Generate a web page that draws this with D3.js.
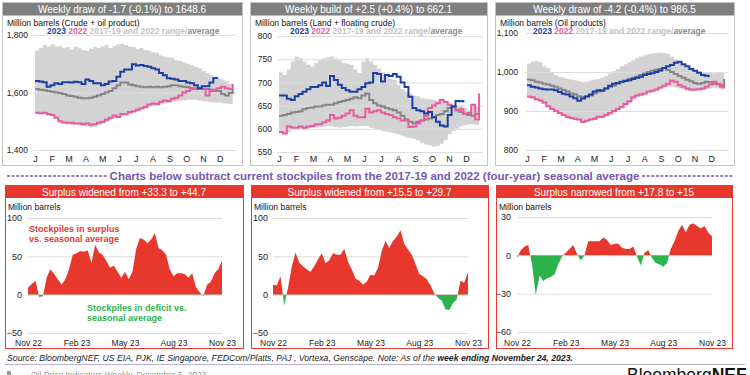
<!DOCTYPE html>
<html>
<head>
<meta charset="utf-8">
<script src="https://cdn.jsdelivr.net/npm/d3@7"></script>
<style>
    body { margin: 0; background: #fff; }
    svg { display: block; font-family: "Liberation Sans", Arial, Helvetica, sans-serif; }
</style>
</head>
<body>
<svg id="chart" width="750" height="375"></svg>
<script>
// x-axis labels
const months = ["J", "F", "M", "A", "M", "J", "J", "A", "S", "O", "N", "D"]
const diffTickLabels = ["Nov 22", "Feb 23", "May 23", "Aug 23", "Nov 23"]
const diffTickWeeks = [0, 13, 26, 39, 52]
const seriesNames = ["2023", "2022", "2017-19 and 2022 range", "average"]

// crude + oil product, weekly (million barrels)
const total2023 = [1640, 1638, 1636, 1620, 1625, 1632, 1630, 1636, 1636, 1635, 1637, 1636, 1630, 1645, 1640, 1632, 1632, 1625, 1630, 1638,
    1640, 1655, 1672, 1680, 1680, 1698, 1694, 1696, 1692, 1690, 1684, 1680, 1668, 1660, 1650, 1648, 1645, 1640, 1640, 1635,
    1632, 1625, 1615, 1622, 1622, 1635, 1650.3, 1648.6]
const total2022 = [1530, 1528, 1530, 1525, 1522, 1512, 1500, 1496, 1495, 1495, 1492, 1492, 1490, 1492, 1488, 1490, 1495, 1498, 1505, 1512,
    1520, 1515, 1525, 1525, 1532, 1535, 1540, 1545, 1550, 1558, 1562, 1560, 1568, 1572, 1570, 1578, 1582, 1590, 1600, 1605,
    1612, 1615, 1612, 1612, 1590, 1605, 1610, 1615, 1620, 1615, 1612, 1630]
const totalAvg = [1612, 1610, 1608, 1605, 1603, 1600, 1598, 1595, 1590, 1588, 1585, 1582, 1580, 1580, 1582, 1585, 1590, 1595, 1600, 1605,
    1615, 1625, 1635, 1635, 1628, 1625, 1622, 1620, 1618, 1620, 1618, 1620, 1618, 1620, 1622, 1625, 1625, 1622, 1620, 1618,
    1615, 1612, 1615, 1612, 1612, 1610, 1605, 1605, 1595, 1590, 1598, 1610]
const totalMin = [1528, 1525, 1525, 1520, 1518, 1510, 1498, 1494, 1490, 1488, 1488, 1486, 1485, 1482, 1478, 1480, 1488, 1492, 1498, 1505,
    1510, 1512, 1518, 1520, 1525, 1530, 1535, 1540, 1545, 1550, 1552, 1555, 1558, 1562, 1565, 1568, 1570, 1572, 1572, 1575,
    1575, 1575, 1572, 1570, 1568, 1566, 1565, 1565, 1563, 1562, 1560, 1558]
const totalMax = [1745, 1755, 1765, 1760, 1768, 1760, 1762, 1755, 1758, 1750, 1760, 1755, 1748, 1745, 1752, 1758, 1755, 1760, 1765, 1755,
    1762, 1768, 1770, 1765, 1760, 1758, 1752, 1755, 1748, 1745, 1740, 1738, 1730, 1725, 1722, 1720, 1712, 1710, 1705, 1700,
    1695, 1690, 1685, 1675, 1668, 1662, 1655, 1650, 1645, 1640, 1630, 1690]

// land + floating crude
const crude2023 = [672, 672, 665, 662, 670, 675, 680, 685, 690, 690, 694, 700, 692, 714, 705, 695, 688, 683, 680, 680,
    685, 690, 698, 700, 720, 718, 702, 716, 714, 718, 712, 700, 690, 669, 645, 640, 638, 633, 636, 625,
    615, 607, 605, 630, 648, 660, 659.6, 662.1]
const crude2022 = [593, 590, 605, 603, 602, 605, 602, 605, 606, 609, 610, 614, 618, 630, 622, 624, 628, 633, 640, 628,
    625, 625, 643, 635, 638, 640, 635, 632, 630, 625, 622, 618, 618, 604, 605, 612, 618, 628, 645, 650,
    655, 662, 658, 652, 648, 640, 642, 632, 634, 652, 620, 676]
const crudeAvg = [628, 630, 632, 635, 636, 638, 642, 645, 646, 648, 648, 650, 652, 652, 655, 658, 660, 662, 665, 668,
    666, 672, 676, 662, 655, 650, 648, 645, 642, 640, 635, 628, 620, 615, 612, 615, 618, 620, 622, 625,
    630, 632, 638, 645, 648, 640, 636, 632, 630, 628, 632, 632]
const crudeMin = [590, 588, 592, 598, 600, 600, 598, 600, 602, 603, 604, 604, 606, 605, 604, 603, 604, 605, 606, 605,
    606, 606, 606, 602, 600, 598, 595, 594, 592, 590, 588, 585, 582, 580, 578, 575, 570, 566, 564, 562,
    563, 568, 576, 588, 595, 600, 605, 608, 610, 610, 608, 606]
const crudeMax = [722, 716, 728, 745, 756, 752, 745, 738, 734, 742, 749, 752, 754, 756, 752, 748, 742, 740, 738, 728,
    720, 745, 752, 745, 738, 730, 722, 712, 708, 705, 695, 685, 680, 676, 672, 670, 666, 665, 664, 662,
    660, 662, 658, 652, 650, 650, 651, 645, 640, 652, 647, 676]

// oil products
const prod2023 = [966, 962, 960, 958, 956, 955, 955, 953, 949, 944, 942, 937, 933, 926, 932, 937, 942, 950, 953, 952,
    958, 965, 970, 972, 975, 977, 979, 982, 985, 988, 992, 995, 997, 1000, 1004, 1010, 1015, 1018, 1024, 1026,
    1020, 1015, 1008, 1003, 998, 992, 990.7, 986.5]
const prod2022 = [937, 935, 930, 927, 922, 912, 905, 900, 895, 890, 885, 882, 880, 878, 872, 875, 878, 880, 885, 885,
    890, 895, 900, 905, 910, 918, 925, 935, 940, 942, 945, 950, 952, 955, 960, 965, 970, 978, 975, 966,
    962, 958, 955, 955, 956, 958, 962, 968, 975, 970, 962, 958]
const prodAvg = [981, 979, 975, 973, 970, 968, 965, 962, 958, 954, 950, 945, 942, 938, 936, 937, 940, 945, 950, 954,
    958, 962, 965, 970, 974, 978, 982, 985, 988, 992, 996, 1000, 1003, 1006, 1008, 1010, 1005, 1000, 995, 990,
    985, 980, 976, 972, 970, 972, 975, 974, 970, 968, 966, 982]
const prodMin = [934, 932, 928, 924, 918, 910, 902, 897, 892, 887, 882, 879, 877, 875, 870, 872, 875, 877, 880, 882,
    886, 890, 896, 902, 907, 914, 920, 928, 935, 938, 942, 946, 948, 952, 956, 960, 962, 962, 960, 958,
    955, 952, 950, 950, 952, 954, 956, 958, 960, 958, 955, 952]
const prodMax = [1022, 1026, 1028, 1025, 1015, 1010, 1000, 992, 988, 986, 983, 981, 979, 976, 974, 975, 978, 980, 982, 985,
    990, 996, 1002, 1008, 1014, 1020, 1025, 1030, 1036, 1040, 1043, 1046, 1048, 1049, 1050, 1049, 1047, 1040, 1032, 1025,
    1018, 1012, 1008, 1004, 1002, 1000, 1000, 998, 996, 998, 1000, 1018]

// current stockpiles minus seasonal average, weekly Nov 22 - Nov 23
const totalDiff = [9, 14, 18, -3, -2, 22, 33, 27, 20, 13, 20, 33, 52, 54, 57, 56, 58, 41, 65, 55,
    52, 44, 35, 38, 30, 22, 30, 20, 30, 60, 74, 72, 67, 72, 80, 61, 58, 52, 33, 24,
    28, 28, 27, 22, 28, 10, 3, -2, 13, 17, 28, 33.3, 44.7]
const crudeDiff = [13, 12, 24, -14, 9, 36, 55, 42, 37, 33, 30, 37, 46, 54, 41, 45, 54, 52, 52, 60,
    43, 33, 21, 18, 13, 17, 26, 25, 35, 57, 70, 61, 70, 76, 84, 66, 59, 52, 40, 27,
    24, 20, 12, 2, -4, -8, -19, -20, -11, -6, 18, 15.5, 29.7]
const productsDiff = [-2, 4, 7, 8, -7, -31, -16, -20, -18, -17, -15, -7, -1, 2, 5, 8, 1, -4, 0, 11,
    11, 11, 11, 14, 12, 8, 9, 9, 6, 5, 5, 7, -1, -8, 2, 4, -2, -6, -7, -9,
    -6, 5, 11, 19, 24, 18, 24, 25, 23, 21, 23, 17.8, 15]

const blue = "#1b3fa2", pink = "#ea5a9f", avgGrey = "#858585", bandGrey = "#d3d3d3"
const red = "#e8372c", green = "#2db34b", purple = "#7757b0"

const svg = d3.select("#chart")

const drawTop = p => {
    const g = svg.append("g")
    g.append("rect").attr("x", p.x + 0.5).attr("y", 2.5).attr("width", p.w).attr("height", 163)
        .attr("fill", "none").attr("stroke", "#c4c4c4")
    g.append("rect").attr("x", p.x + 1).attr("y", 3).attr("width", p.w - 1).attr("height", 12.5).attr("fill", "#7f7f7f")
    g.append("text").attr("x", p.x + p.w / 2).attr("y", 13).attr("text-anchor", "middle")
        .attr("fill", "#fff").attr("font-size", 10).text(p.title)
    g.append("text").attr("x", p.x + 5).attr("y", 25.5).attr("font-size", 8.5).attr("fill", "#111").text(p.sub)

    const x = d3.scaleLinear().domain([0, 52]).range([p.x0, p.x0 + 12 * p.mw])
    const y = d3.scaleLinear().domain(p.domain).range(p.range)

    // 2017-19 + 2022 range
    g.append("path").datum(p.hi)
        .attr("fill", bandGrey)
        .attr("d", d3.area().curve(d3.curveStepAfter)
            .x((d, i) => x(i))
            .y0((d, i) => y(p.lo[i]))
            .y1(d => y(d)))

    const yAxis = g.append("g")
        .attr("transform", `translate(${p.x0 - 2},0)`)
        .call(d3.axisLeft(y).tickValues(p.ticks).tickFormat(d3.format(","))
            .tickSize(-(12 * p.mw + 2)).tickPadding(p.x0 - 2 - p.labelX))
    yAxis.select(".domain").remove()
    yAxis.selectAll("line").attr("stroke", "#dedede")
    yAxis.selectAll("text").attr("font-size", 8.5).attr("fill", "#222").attr("font-family", null)

    const line = d3.line().curve(d3.curveStepAfter).x((d, i) => x(i)).y(d => y(d))
    const series = [[p.avg, avgGrey], [p.y2022, pink], [p.y2023, blue]]
    series.forEach(([data, c]) => {
        g.append("path").datum(data)
            .attr("fill", "none")
            .attr("stroke", c)
            .attr("stroke-width", 2)
            .attr("d", line)
    })

    // legend
    const leg = g.append("text").attr("x", p.legendX).attr("y", 34)
        .attr("font-size", 8.5).attr("font-weight", "bold")
    leg.append("tspan").attr("fill", blue).text(seriesNames[0] + " ")
    leg.append("tspan").attr("fill", pink).text(seriesNames[1] + " ")
    leg.append("tspan").attr("fill", "#c2c2c2").text(seriesNames[2] + "/")
    leg.append("tspan").attr("fill", "#8c8c8c").text(seriesNames[3])

    const mAxis = g.append("g")
        .attr("transform", "translate(0,155)")
        .call(d3.axisBottom(x).tickValues(months.map((m, i) => i * 52 / 12))
            .tickFormat((d, i) => months[i]).tickSize(0).tickPadding(1))
    mAxis.select(".domain").remove()
    mAxis.selectAll("text").attr("font-size", 9).attr("fill", "#222").attr("font-family", null)
}

const drawDiff = (p, k) => {
    const g = svg.append("g")
    g.append("rect").attr("x", p.x + 0.5).attr("y", 185.5).attr("width", p.w).attr("height", 163)
        .attr("fill", "none").attr("stroke", red)
    g.append("rect").attr("x", p.x).attr("y", 185).attr("width", p.w + 1).attr("height", 13).attr("fill", red)
    g.append("text").attr("x", p.x + p.w / 2).attr("y", 195.5).attr("text-anchor", "middle")
        .attr("fill", "#fff").attr("font-size", 10).text(p.title)
    g.append("text").attr("x", p.x + 3).attr("y", 210).attr("font-size", 8.5).attr("fill", "#111").text("Million barrels")

    const x = d3.scaleLinear().domain([0, 52]).range([p.x0, p.x1])
    const y = d3.scaleLinear().domain(p.domain).range(p.range)

    const yAxis = g.append("g")
        .attr("transform", `translate(${p.x0},0)`)
        .call(d3.axisLeft(y).tickValues(p.ticks)
            .tickSize(-(p.x1 - p.x0)).tickPadding(p.x0 - p.labelX))
    yAxis.select(".domain").remove()
    yAxis.selectAll("line").attr("stroke", "#dcdcdc")
    yAxis.selectAll("text").attr("font-size", 9).attr("fill", "#222").attr("font-family", null)

    // split surplus / deficit at zero
    const defs = g.append("defs")
    defs.append("clipPath").attr("id", "pos" + k).append("rect")
        .attr("x", p.x0 - 1).attr("y", 0).attr("width", p.x1 - p.x0 + 2).attr("height", y(0))
    defs.append("clipPath").attr("id", "neg" + k).append("rect")
        .attr("x", p.x0 - 1).attr("y", y(0)).attr("width", p.x1 - p.x0 + 2).attr("height", 375 - y(0))

    const area = d3.area().x((d, i) => x(i)).y0(y(0)).y1(d => y(d))
    g.append("path").datum(p.data).attr("fill", red).attr("clip-path", `url(#pos${k})`).attr("d", area)
    g.append("path").datum(p.data).attr("fill", green).attr("clip-path", `url(#neg${k})`).attr("d", area)

    const xAxis = g.append("g")
        .attr("transform", "translate(0,338.5)")
        .call(d3.axisBottom(x).tickValues(diffTickWeeks)
            .tickFormat((d, i) => diffTickLabels[i]).tickSize(0).tickPadding(1))
    xAxis.select(".domain").remove()
    xAxis.selectAll("text").attr("font-size", 8.5).attr("fill", "#222").attr("font-family", null)
    return g
}

drawTop({
    x: 2, w: 240, title: "Weekly draw of -1.7 (-0.1%) to 1648.6", sub: "Million barrels (Crude + oil product)",
    y2023: total2023, y2022: total2022, avg: totalAvg, lo: totalMin, hi: totalMax,
    domain: [1400, 1800], range: [150, 35], ticks: [1400, 1600, 1800],
    x0: 35, mw: 16.8, labelX: 28, legendX: 47
})
drawTop({
    x: 250, w: 237, title: "Weekly build of +2.5 (+0.4%) to 662.1", sub: "Million barrels (Land + floating crude)",
    y2023: crude2023, y2022: crude2022, avg: crudeAvg, lo: crudeMin, hi: crudeMax,
    domain: [550, 800], range: [152, 36], ticks: [550, 600, 650, 700, 750, 800],
    x0: 279, mw: 17, labelX: 272, legendX: 290
})
drawTop({
    x: 495, w: 239, title: "Weekly draw of -4.2 (-0.4%) to 986.5", sub: "Million barrels (Oil products)",
    y2023: prod2023, y2022: prod2022, avg: prodAvg, lo: prodMin, hi: prodMax,
    domain: [800, 1100], range: [150, 33], ticks: [800, 900, 1000, 1100],
    x0: 527, mw: 16.75, labelX: 518, legendX: 533
})

// divider
svg.append("line").attr("x1", 7).attr("x2", 107).attr("y1", 176).attr("y2", 176)
    .attr("stroke", purple).attr("stroke-width", 1.3).attr("stroke-dasharray", "3,1.6")
svg.append("line").attr("x1", 642).attr("x2", 733).attr("y1", 176).attr("y2", 176)
    .attr("stroke", purple).attr("stroke-width", 1.3).attr("stroke-dasharray", "3,1.6")
svg.append("text").attr("x", 374.5).attr("y", 180).attr("text-anchor", "middle")
    .attr("font-size", 11.5).attr("font-weight", "bold").attr("fill", purple)
    .text("Charts below subtract current stockpiles from the 2017-19 and 2022 (four-year) seasonal average")

const p1 = drawDiff({
    x: 5, w: 238, title: "Surplus widened from +33.3 to +44.7", data: totalDiff,
    domain: [-50, 100], range: [333, 218], ticks: [-50, 0, 50, 100], x0: 28, x1: 222, labelX: 22
}, 1)
drawDiff({
    x: 251, w: 237, title: "Surplus widened from +15.5 to +29.7", data: crudeDiff,
    domain: [-50, 100], range: [333, 218], ticks: [-50, 0, 50, 100], x0: 273, x1: 468, labelX: 268
}, 2)
drawDiff({
    x: 496, w: 236, title: "Surplus narrowed from +17.8 to +15", data: productsDiff,
    domain: [-60, 30], range: [332, 217], ticks: [-60, -30, 0, 30], x0: 517, x1: 712, labelX: 511
}, 3)

// annotations
const ann = (g, x, y, c, lines) => {
    const t = g.append("text").attr("x", x).attr("y", y).attr("font-size", 9).attr("font-weight", "bold").attr("fill", c)
    lines.forEach((s, i) => t.append("tspan").attr("x", x).attr("dy", i ? 10 : 0).text(s))
}
ann(p1, 29, 232, red, ["Stockpiles in surplus", "vs. seasonal average"])
ann(p1, 87, 311, green, ["Stockpiles in deficit vs.", "seasonal average"])

// source + footer
const src = svg.append("text").attr("x", 7).attr("y", 361).attr("font-size", 8.7)
    .attr("font-style", "italic").attr("fill", "#222")
src.append("tspan").text("Source: BloombergNEF, US EIA, PJK, IE Singapore, FEDCom/Platts, PAJ , Vortexa, Genscape. Note: As of the ")
src.append("tspan").attr("font-weight", "bold").text("week ending November 24, 2023.")
svg.append("line").attr("x1", 5).attr("x2", 745).attr("y1", 364.5).attr("y2", 364.5)
    .attr("stroke", "#b8b0d4").attr("stroke-width", 1)
svg.append("rect").attr("x", 7).attr("y", 371).attr("width", 4).attr("height", 4).attr("fill", "#9a9a9a")
svg.append("text").attr("x", 31).attr("y", 378).attr("font-size", 8.5).attr("fill", "#9a9a9a")
    .text("Oil Price Indicators Weekly, December 5, 2023")
const logo = svg.append("text").attr("x", 627).attr("y", 380.5).attr("font-size", 17.5).attr("fill", "#111")
logo.append("tspan").text("Bloomberg")
logo.append("tspan").attr("font-weight", "bold").text("NEF")
</script>
</body>
</html>
